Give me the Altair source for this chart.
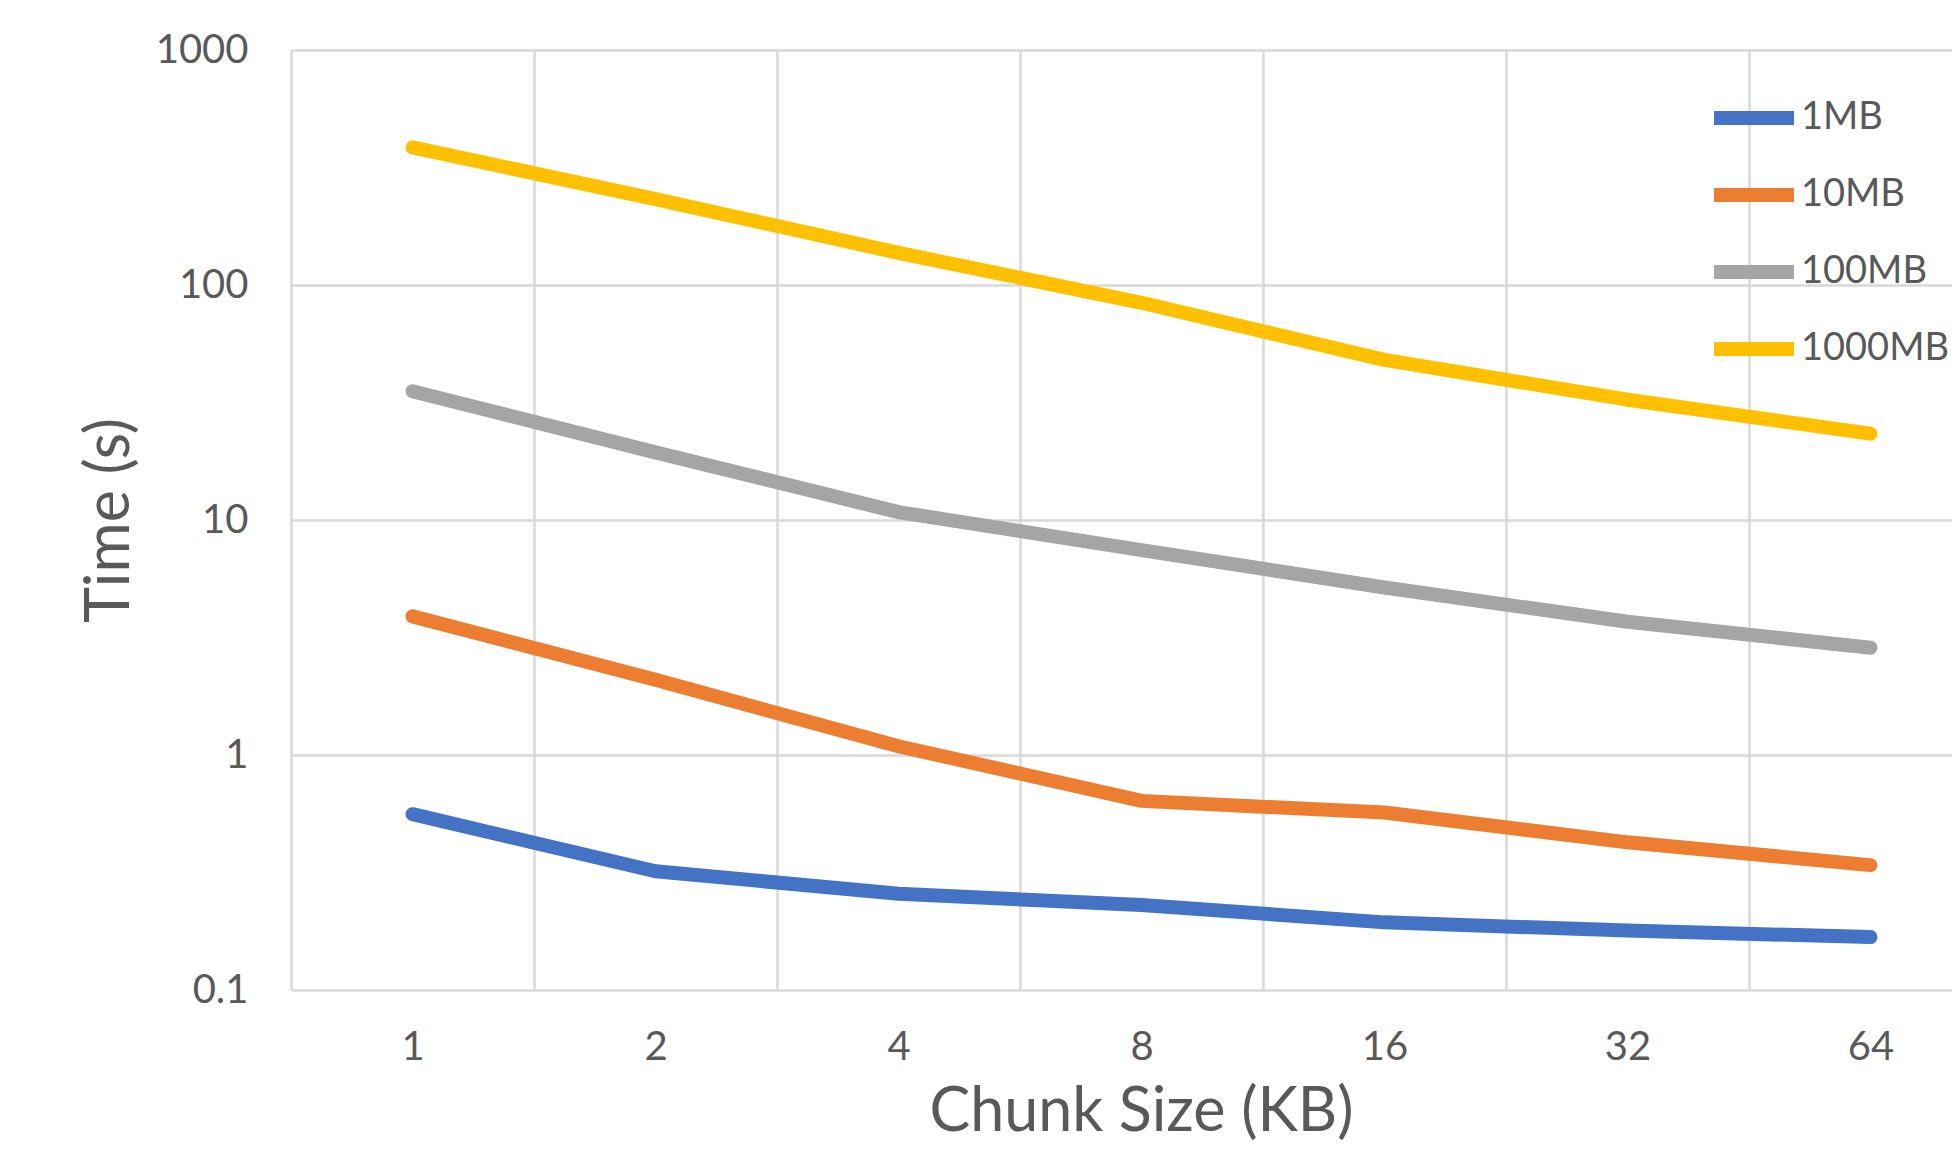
import altair as alt
import pandas as pd

chunk_sizes = ["1", "2", "4", "8", "16", "32", "64"]
series_names = ["1MB", "10MB", "100MB", "1000MB"]
time_1mb = [0.56, 0.32, 0.257, 0.230, 0.194, 0.179, 0.168]
time_10mb = [3.89, 2.09, 1.09, 0.638, 0.569, 0.425, 0.34]
time_100mb = [35.3, 19.4, 10.8, 7.45, 5.16, 3.69, 2.86]
time_1000mb = [385, 232, 137, 84, 48, 32.5, 23.3]
series_colors = ["#4472C4", "#ED7D31", "#A5A5A5", "#FFC000"]
y_ticks = [0.1, 1, 10, 100, 1000]

rows = []
for name, vals in zip(series_names, [time_1mb, time_10mb, time_100mb, time_1000mb]):
    for c, v in zip(chunk_sizes, vals):
        rows.append({"chunk": c, "series": name, "time": v})
df = pd.DataFrame(rows)

FONT = "Lato"
TEXT = "#595959"

chart = (
    alt.Chart(df)
    .mark_line(strokeWidth=14, strokeCap="round", strokeJoin="round")
    .encode(
        x=alt.X(
            "chunk:N",
            sort=chunk_sizes,
            scale=alt.Scale(type="band", paddingInner=0, paddingOuter=0, range=[0, 1701]),
            axis=alt.Axis(
                title="Chunk Size (KB)",
                tickBand="extent",
                grid=True,
                ticks=False,
                domain=False,
                labelAngle=0,
                labelFont=FONT,
                labelFontSize=40,
                labelColor=TEXT,
                labelBaseline="middle",
                labelPadding=57,
                titleFont=FONT,
                titleFontSize=61,
                titleFontWeight="normal",
                titleColor=TEXT,
                titleX=850,
                titleY=140,
                titleBaseline="alphabetic",
            ),
        ),
        y=alt.Y(
            "time:Q",
            scale=alt.Scale(type="log", domain=[0.1, 1000], nice=False),
            axis=alt.Axis(
                title="Time (s)",
                values=y_ticks,
                format="~g",
                grid=True,
                ticks=False,
                domain=False,
                labelFont=FONT,
                labelFontSize=40,
                labelColor=TEXT,
                labelPadding=43,
                titleFont=FONT,
                titleFontSize=61,
                titleFontWeight="normal",
                titleColor=TEXT,
                titleX=-163,
                titleY=470,
                titleBaseline="alphabetic",
            ),
        ),
        color=alt.Color(
            "series:N",
            sort=series_names,
            scale=alt.Scale(domain=series_names, range=series_colors),
            legend=alt.Legend(
                title=None,
                orient="none",
                legendX=1416,
                legendY=21,
                padding=0,
                symbolType="stroke",
                symbolStrokeWidth=14,
                symbolSize=6400,
                labelFont=FONT,
                labelFontSize=38,
                labelColor=TEXT,
                labelOffset=0,
                rowPadding=2,
            ),
        ),
    )
    .properties(
        width=1661,
        height=940,
        autosize=alt.AutoSizeParams(type="none"),
        padding={"left": 283, "top": 42, "right": 0, "bottom": 154},
        background="white",
    )
    .configure_view(stroke=None)
    .configure_axis(gridColor="#D9D9D9", gridWidth=2.5)
)

chart.save("out.html", embed_options={"renderer": "svg", "actions": False})
